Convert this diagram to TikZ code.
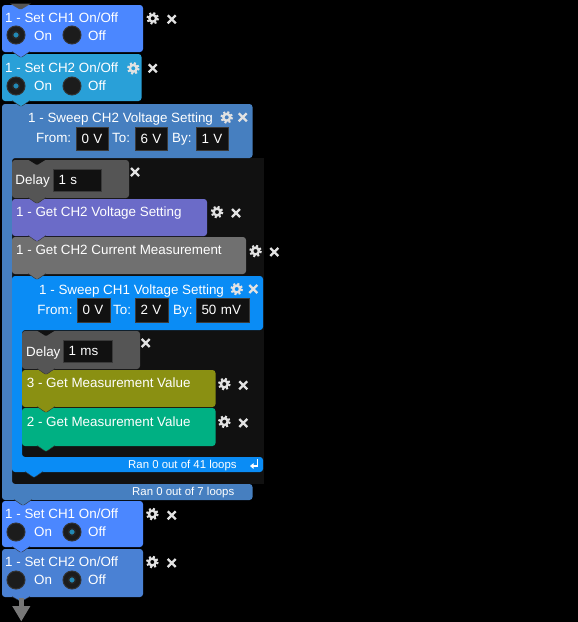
\documentclass[tikz,border=0pt]{standalone}
\usepackage{fontspec}
\setmainfont{Liberation Sans}
\usetikzlibrary{arrows.meta}

\definecolor{SetOneBlue}{HTML}{4B87FF}
\definecolor{SetTwoCyan}{HTML}{29A0D8}
\definecolor{SetTwoBlue}{HTML}{4A81D4}
\definecolor{SweepTwoBlue}{HTML}{467FC0}
\definecolor{SweepOneBlue}{HTML}{0A8CF5}
\definecolor{DelayGray}{HTML}{555555}
\definecolor{GetVoltPurple}{HTML}{6B6BC8}
\definecolor{GetCurrGray}{HTML}{707070}
\definecolor{MeasOlive}{HTML}{8A9012}
\definecolor{MeasTeal}{HTML}{00B083}
\definecolor{LoopDark}{HTML}{111111}
\definecolor{BoxEdge}{HTML}{3A3A3A}
\definecolor{IconGray}{HTML}{E2E2E2}
\definecolor{RadioDark}{HTML}{1C1C1C}
\definecolor{RadioRim}{HTML}{333333}
\definecolor{RadioDot}{HTML}{2389B5}
\definecolor{ArrowGray}{HTML}{777777}

\begin{document}
\begin{tikzpicture}[x=1pt, y=-1pt]
\fill[black] (0,0) rectangle (578,622);
\useasboundingbox (0,0) rectangle (578,622);

\coordinate (B1_nw) at (2, 5);      \coordinate (B1_se) at (143, 52);
\coordinate (B2_nw) at (2, 54);     \coordinate (B2_se) at (141.5, 101);
\coordinate (D1_nw) at (12, 160);   \coordinate (D1_se) at (129, 198);
\coordinate (G1_nw) at (12, 199);   \coordinate (G1_se) at (207, 236);
\coordinate (G2_nw) at (12, 237);   \coordinate (G2_se) at (246, 274);
\coordinate (D2_nw) at (22, 331);   \coordinate (D2_se) at (140, 369);
\coordinate (M3_nw) at (22, 370);   \coordinate (M3_se) at (215.5, 407);
\coordinate (M2_nw) at (22, 408);   \coordinate (M2_se) at (215.5, 446);
\coordinate (B3_nw) at (2, 501);    \coordinate (B3_se) at (143, 547);
\coordinate (B4_nw) at (2, 549);    \coordinate (B4_se) at (143, 597);


\tikzset{BlockStyle/.style = {rounded corners=3pt} }
\tikzset{NotchStyle/.style = {draw=black!80, line width=0.4pt} }

\fill[LoopDark] (12, 158) rectangle (264, 484);
\fill[SweepTwoBlue, BlockStyle] (2, 104) -- (252.5, 104) -- (252.5, 158) -- (12, 158) -- (12, 484) -- (252.5, 484) -- (252.5, 500) -- (2, 500) -- cycle;
\fill[SweepOneBlue, BlockStyle] (12, 276) -- (263, 276) -- (263, 330) -- (22, 330) -- (22, 457) -- (263, 457) -- (263, 472) -- (12, 472) -- cycle;

\fill[SetOneBlue, BlockStyle] (B1_nw) rectangle (B1_se);
\fill[SetTwoCyan, BlockStyle] (B2_nw) rectangle (B2_se);
\fill[DelayGray, BlockStyle] (D1_nw) rectangle (D1_se);
\fill[GetVoltPurple, BlockStyle] (G1_nw) rectangle (G1_se);
\fill[GetCurrGray, BlockStyle] (G2_nw) rectangle (G2_se);
\fill[DelayGray, BlockStyle] (D2_nw) rectangle (D2_se);
\fill[MeasOlive, BlockStyle] (M3_nw) rectangle (M3_se);
\fill[MeasTeal, BlockStyle] (M2_nw) rectangle (M2_se);
\fill[SetOneBlue, BlockStyle] (B3_nw) rectangle (B3_se);
\fill[SetTwoBlue, BlockStyle] (B4_nw) rectangle (B4_se);

% connector notches
\fill[DelayGray] (10, 3.5) -- (31, 3.5) -- (22, 9) -- (19, 9) -- cycle;
\fill[LoopDark] (28, 159.5) -- ++(8, 5) -- ++(2, 0) -- ++(8, -5) -- cycle;
\fill[LoopDark] (37, 330.5) -- ++(8, 5) -- ++(2, 0) -- ++(8, -5) -- cycle;
\fill[SetOneBlue, NotchStyle] (12, 51.5) -- ++(8, 5.5) -- ++(2, 0) -- ++(8, -5.5);
\fill[SetTwoCyan, NotchStyle] (12, 100.5) -- ++(8, 5.5) -- ++(2, 0) -- ++(8, -5.5);
\fill[DelayGray, NotchStyle] (28, 197.5) -- ++(8, 5.5) -- ++(2, 0) -- ++(8, -5.5);
\fill[GetVoltPurple, NotchStyle] (28, 235.5) -- ++(8, 5.5) -- ++(2, 0) -- ++(8, -5.5);
\fill[GetCurrGray, NotchStyle] (28, 273.5) -- ++(8, 5.5) -- ++(2, 0) -- ++(8, -5.5);
\fill[DelayGray, NotchStyle] (37, 368.5) -- ++(8, 5.5) -- ++(2, 0) -- ++(8, -5.5);
\fill[MeasOlive, NotchStyle] (37, 406.5) -- ++(8, 5.5) -- ++(2, 0) -- ++(8, -5.5);
\fill[MeasTeal, NotchStyle] (37, 445.5) -- ++(8, 5.5) -- ++(2, 0) -- ++(8, -5.5);
\fill[SweepOneBlue, NotchStyle] (25, 471.5) -- ++(8, 5.5) -- ++(2, 0) -- ++(8, -5.5);
\fill[SweepTwoBlue, NotchStyle] (14, 499.5) -- ++(8, 5.5) -- ++(2, 0) -- ++(8, -5.5);
\fill[SetOneBlue, NotchStyle] (12, 546.5) -- ++(8, 5.5) -- ++(2, 0) -- ++(8, -5.5);
\fill[SetTwoBlue, NotchStyle] (12, 596.5) -- ++(8, 4.5) -- ++(2, 0) -- ++(8, -4.5);


\tikzset{TitleStyle/.style = {
 anchor = base west,
 inner sep = 0pt,
 text = white,
 font = \fontsize{13.4}{16}\selectfont} }
\tikzset{SmallStyle/.style = {TitleStyle, font = \fontsize{11.4}{13}\selectfont} }
\tikzset{ValueBox/.style = {
 anchor = west,
 inner xsep = 5.5pt,
 inner ysep = 0pt,
 outer sep = 0pt,
 fill = LoopDark,
 draw = BoxEdge,
 line width = 0.8pt,
 text = white,
 font = \fontsize{13.4}{16}\selectfont,
 minimum height = 23pt,
 text width = #1,
 align = left} }
\tikzset{RadioStyle/.style = {circle, inner sep=0pt, minimum size=18pt, fill=RadioDark, draw=RadioRim, line width=1pt} }
\tikzset{RadioDotStyle/.style = {circle, inner sep=0pt, minimum size=7pt, fill=RadioDot, draw=black!85, line width=1.5pt} }
\tikzset{GearPic/.pic = {
 \fill[IconGray, even odd rule] (0,0) circle (4.6) (0,0) circle (2.1);
 \draw[IconGray, line width=2.2pt, dash pattern=on 2.1pt off 2.14pt] (0,0) circle (5.4);
} }
\tikzset{ClosePic/.pic = {
 \draw[IconGray, line width=2.3pt] (-4,-4) -- (4,4) (-4,4) -- (4,-4);
} }

% set CH1 / CH2 on
\node[TitleStyle] (T1) at (5, 22) {1 - Set CH1 On/Off};
\node[RadioStyle] (R1_on) at (16, 35) {};
\node[RadioDotStyle] (R1_dot) at (R1_on) {};
\node[TitleStyle] (T1_on) at (34, 40) {On};
\node[RadioStyle] (R1_off) at (72, 35) {};
\node[TitleStyle] (T1_off) at (88, 40) {Off};
\pic at (152.7, 18.3) {GearPic};
\pic at (171.7, 19.3) {ClosePic};

\node[TitleStyle] (T2) at (5, 72.3) {1 - Set CH2 On/Off};
\node[RadioStyle] (R2_on) at (16, 86) {};
\node[RadioDotStyle] (R2_dot) at (R2_on) {};
\node[TitleStyle] (T2_on) at (34, 90.5) {On};
\node[RadioStyle] (R2_off) at (72, 86) {};
\node[TitleStyle] (T2_off) at (88, 90.5) {Off};
\pic at (133.3, 68.3) {GearPic};
\pic at (152.7, 68.3) {ClosePic};

% sweep CH2
\node[TitleStyle] (T3) at (28, 122) {1 - Sweep CH2 Voltage Setting};
\pic at (226.7, 117.3) {GearPic};
\pic at (242.7, 117.3) {ClosePic};
\node[TitleStyle] (T3_from) at (36, 142.7) {From:};
\node[ValueBox=21pt] (V3_from) at (76, 138.5) {0 V};
\node[TitleStyle] (T3_to) at (112, 142.7) {To:};
\node[ValueBox=21pt] (V3_to) at (135, 138.5) {6 V};
\node[TitleStyle] (T3_by) at (172, 142.7) {By:};
\node[ValueBox=21pt] (V3_by) at (196, 138.5) {1 V};

\node[TitleStyle] (T4) at (15.3, 184.3) {Delay};
\node[ValueBox=37pt, minimum height=22pt] (V4) at (53, 180) {1 s};
\pic at (135, 172) {ClosePic};

\node[TitleStyle] (T5) at (16, 216.7) {1 - Get CH2 Voltage Setting};
\pic at (217, 212) {GearPic};
\pic at (236, 213) {ClosePic};

\node[TitleStyle] (T6) at (16, 254.3) {1 - Get CH2 Current Measurement};
\pic at (255.5, 251) {GearPic};
\pic at (274.3, 252) {ClosePic};

% sweep CH1
\node[TitleStyle] (T7) at (39, 294.3) {1 - Sweep CH1 Voltage Setting};
\pic at (236.7, 289) {GearPic};
\pic at (253.3, 289) {ClosePic};
\node[TitleStyle] (T7_from) at (37.3, 314.3) {From:};
\node[ValueBox=22pt, minimum height=24pt] (V7_from) at (77, 310) {0 V};
\node[TitleStyle] (T7_to) at (113, 314.3) {To:};
\node[ValueBox=22pt, minimum height=24pt] (V7_to) at (135, 310) {2 V};
\node[TitleStyle] (T7_by) at (173, 314.3) {By:};
\node[ValueBox=42pt, minimum height=24pt] (V7_by) at (196, 310) {50 mV};

\node[TitleStyle] (T8) at (26, 356) {Delay};
\node[ValueBox=38pt, minimum height=22pt] (V8) at (63, 351) {1 ms};
\pic at (145.7, 343) {ClosePic};

\node[TitleStyle] (T9) at (26.7, 387.3) {3 - Get Measurement Value};
\pic at (224.3, 384) {GearPic};
\pic at (243.3, 385.3) {ClosePic};

\node[TitleStyle] (T10) at (26.7, 426) {2 - Get Measurement Value};
\pic at (224.3, 421.7) {GearPic};
\pic at (243.3, 423) {ClosePic};

\node[SmallStyle] (L1) at (128, 468.7) {Ran 0 out of 41 loops};
\coordinate (Ret_top) at (257.5, 459);
\coordinate (Ret_end) at (250, 466);
\draw[white, line width=1.6pt, -{Triangle[width=5.5pt, length=3.5pt]}] (Ret_top) |- (Ret_end);
\node[SmallStyle] (L2) at (132, 495.7) {Ran 0 out of 7 loops};

% set CH1 / CH2 off
\node[TitleStyle] (T11) at (5, 518.3) {1 - Set CH1 On/Off};
\node[RadioStyle] (R11_on) at (16, 532) {};
\node[TitleStyle] (T11_on) at (34, 536.7) {On};
\node[RadioStyle] (R11_off) at (72, 532) {};
\node[RadioDotStyle] (R11_dot) at (R11_off) {};
\node[TitleStyle] (T11_off) at (88, 536.7) {Off};
\pic at (152.3, 514) {GearPic};
\pic at (171.7, 515.3) {ClosePic};

\node[TitleStyle] (T12) at (5, 566.7) {1 - Set CH2 On/Off};
\node[RadioStyle] (R12_on) at (16, 580) {};
\node[TitleStyle] (T12_on) at (34, 584.3) {On};
\node[RadioStyle] (R12_off) at (72, 580) {};
\node[RadioDotStyle] (R12_dot) at (R12_off) {};
\node[TitleStyle] (T12_off) at (88, 584.3) {Off};
\pic at (152.3, 562) {GearPic};
\pic at (171.7, 563) {ClosePic};

\coordinate (A_top) at (21.3, 598);
\coordinate (A_tip) at (21.3, 621.5);
\draw[ArrowGray, line width=5.5pt, -{Triangle[width=17pt, length=15.5pt]}] (A_top) -- (A_tip);

\end{tikzpicture}
\end{document}
